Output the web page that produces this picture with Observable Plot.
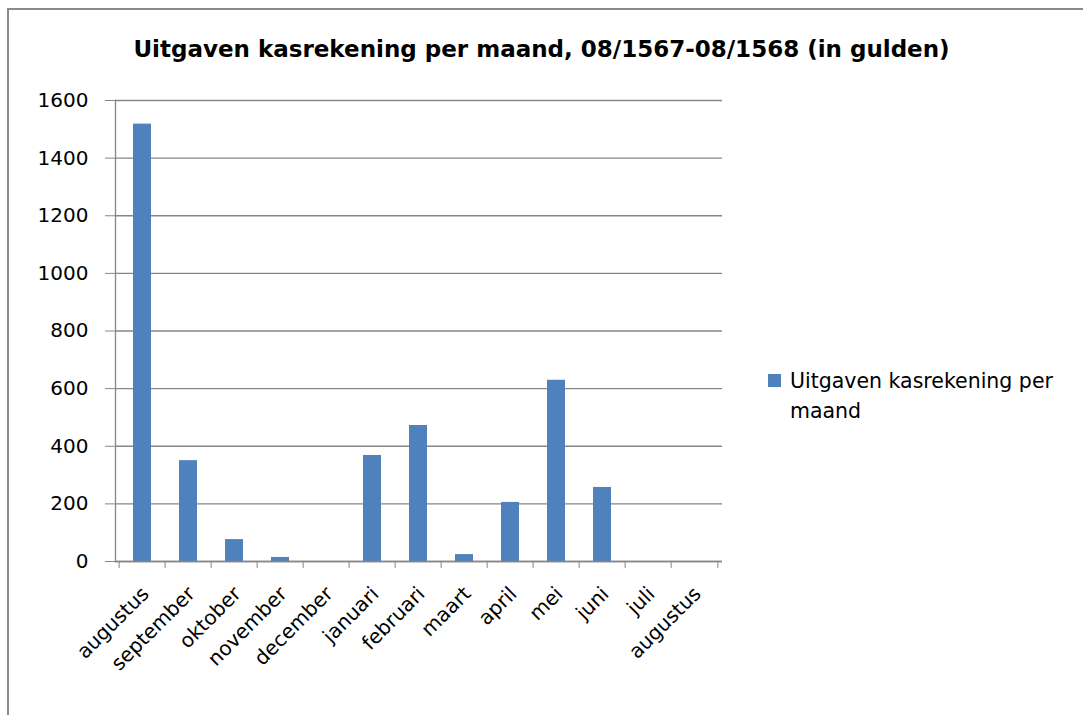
<!DOCTYPE html>
<html><head><meta charset="utf-8">
<script src="https://cdn.jsdelivr.net/npm/d3@7"></script>
<script src="https://cdn.jsdelivr.net/npm/@observablehq/plot@0.6"></script>
<style>
body{margin:0;background:#fff;font-family:"DejaVu Sans",sans-serif;}
#wrap{position:relative;width:1083px;height:715px;overflow:hidden;}
#border{position:absolute;left:7px;top:8px;width:1100px;height:720px;border-left:2px solid #8a8a8a;border-top:2px solid #8a8a8a;}
#title{position:absolute;left:0;width:1083px;top:36px;text-align:center;font-size:23px;font-weight:bold;color:#000;}
#legend{position:absolute;left:768px;top:366px;font-size:20.5px;line-height:30px;color:#000;}
#legend .sw{position:absolute;left:0;top:8px;width:13px;height:13px;background:#4f81bd;}
#legend .tx{margin-left:22px;}
#chart{position:absolute;left:0;top:0;}
</style></head>
<body>
<div id="wrap">
<div id="border"></div>
<div id="title">Uitgaven kasrekening per maand, 08/1567-08/1568 (in gulden)</div>
<div id="chart"></div>
<div id="legend"><div class="sw"></div><div class="tx">Uitgaven kasrekening per<br>maand</div></div>
</div>
<script>
const months = ["augustus","september","oktober","november","december","januari","februari","maart","april","mei","juni","juli","augustus"];
const values = [1518, 350, 76, 14, 0, 368, 472, 24, 205, 629, 257, 0, 0];
const yTicks = [0, 200, 400, 600, 800, 1000, 1200, 1400, 1600];
const seriesName = "Uitgaven kasrekening per maand";

const data = months.map((m, i) => ({i, month: m, value: values[i]}));
const W = 1083, H = 715, mL = 115, mR = 361, mT = 100, mB = 154;
const step = (W - mL - mR) / months.length;
const grey = "#868686";

const chart = Plot.plot({
  width: W, height: H,
  marginLeft: mL, marginRight: mR, marginTop: mT, marginBottom: mB,
  style: {fontFamily: "DejaVu Sans, sans-serif", fontSize: "20px", color: "#000", background: "transparent"},
  x: {type: "band", domain: d3.range(months.length), paddingInner: 0.6, paddingOuter: 0.3, label: null},
  y: {domain: [0, 1600], label: null},
  marks: [
    Plot.gridY(yTicks, {stroke: grey, strokeOpacity: 1, strokeWidth: 1.3}),
    Plot.barY(data, {x: "i", y: "value", fill: "#4f81bd"}),
    Plot.frame({anchor: "left", stroke: grey, strokeOpacity: 1, strokeWidth: 1.3}),
    Plot.ruleY([0], {stroke: grey, strokeWidth: 1.3}),
    Plot.axisY({ticks: yTicks, tickSize: 10, tickPadding: 17, tickFormat: d => String(d), stroke: grey, strokeOpacity: 1, fontSize: 20, label: null}),
    Plot.axisX({ticks: d3.range(months.length), tickSize: 7, text: null, dx: -step / 2, stroke: grey, strokeOpacity: 1, label: null}),
    Plot.axisX({ticks: [months.length - 1], tickSize: 7, text: null, dx: step / 2, stroke: grey, strokeOpacity: 1, label: null}),
    Plot.axisX({ticks: d3.range(months.length), tickSize: 0, tickPadding: 29, dx: 3, tickRotate: -45, tickFormat: i => months[i], fontSize: 20, label: null})
  ]
});
document.getElementById("chart").appendChild(chart);
</script>
</body></html>
